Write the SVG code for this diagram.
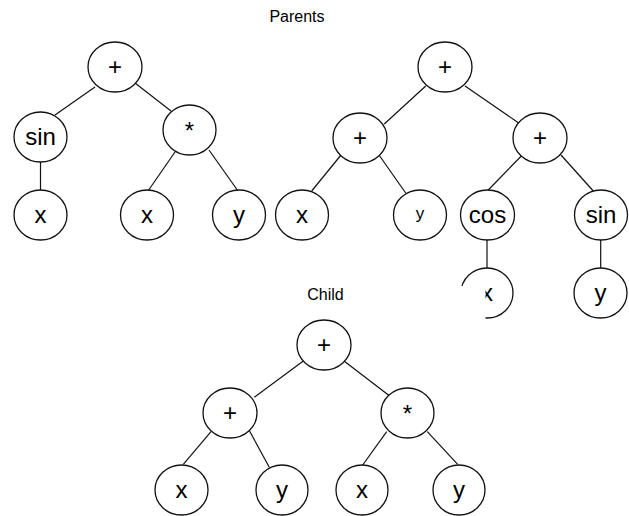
<svg xmlns="http://www.w3.org/2000/svg" width="629" height="516" viewBox="0 0 629 516">
<style>
.n ellipse{fill:#fff;stroke:#111;stroke-width:1.3}
.n text{font-family:"Liberation Sans",Arial,sans-serif;font-size:24px;text-anchor:middle;fill:#000}
.n text.op{font-size:24px}
.n text.sm{font-size:17px}
.t{font-family:"Liberation Sans",Arial,sans-serif;font-size:16px;text-anchor:middle;fill:#000}
#edges line{stroke:#111;stroke-width:1.2}
</style>
<rect width="629" height="516" fill="#fff"/>
<text class="t" x="297" y="22">Parents</text>
<text class="t" x="325.5" y="300">Child</text>
<g id="edges">
<line x1="95" y1="87" x2="55" y2="115"/>
<line x1="135" y1="83" x2="171" y2="111"/>
<line x1="40.5" y1="162" x2="40.5" y2="190"/>
<line x1="175" y1="152" x2="148" y2="191"/>
<line x1="209" y1="150" x2="238" y2="191"/>
<line x1="425.7" y1="86" x2="384.3" y2="124"/>
<line x1="465" y1="86" x2="518.3" y2="122.7"/>
<line x1="341" y1="155" x2="311.7" y2="191"/>
<line x1="379" y1="155" x2="405.7" y2="193"/>
<line x1="522.3" y1="155" x2="487.3" y2="191"/>
<line x1="561" y1="155" x2="593.3" y2="191"/>
<line x1="487" y1="240" x2="487" y2="268"/>
<line x1="600.7" y1="240" x2="600.7" y2="268"/>
<line x1="303.3" y1="361" x2="254.3" y2="397.3"/>
<line x1="344" y1="361" x2="390.7" y2="396.7"/>
<line x1="211" y1="431.7" x2="183.3" y2="464.3"/>
<line x1="249" y1="430" x2="269.3" y2="467.3"/>
<line x1="386.7" y1="431.7" x2="362.7" y2="465"/>
<line x1="427.3" y1="431.7" x2="457.7" y2="464.3"/>
</g>
<g id="p1_plus" class="n"><ellipse cx="115" cy="67" rx="27" ry="25"/><text class="op" x="115" y="75">+</text></g>
<g id="p1_sin" class="n"><ellipse cx="40.5" cy="137" rx="26.5" ry="25"/><text x="40.5" y="145">sin</text></g>
<g id="p1_mul" class="n"><ellipse cx="189.5" cy="130" rx="26.5" ry="25"/><text class="op" x="189.5" y="139">*</text></g>
<g id="p1_x1" class="n"><ellipse cx="40.5" cy="215" rx="26.5" ry="25"/><text x="40.5" y="223">x</text></g>
<g id="p1_x2" class="n"><ellipse cx="147" cy="215" rx="26.5" ry="25"/><text x="147" y="223">x</text></g>
<g id="p1_y" class="n"><ellipse cx="239" cy="215" rx="26.5" ry="25"/><text x="239" y="223">y</text></g>

<g id="p2_plus" class="n"><ellipse cx="445" cy="67" rx="27" ry="25"/><text class="op" x="445" y="75">+</text></g>
<g id="p2_plusL" class="n"><ellipse cx="360" cy="138" rx="27" ry="25"/><text class="op" x="360" y="146">+</text></g>
<g id="p2_plusR" class="n"><ellipse cx="540" cy="138" rx="27" ry="25"/><text class="op" x="540" y="146">+</text></g>
<g id="p2_x" class="n"><ellipse cx="302" cy="215" rx="26.5" ry="25"/><text x="302" y="223">x</text></g>
<g id="p2_y" class="n"><ellipse cx="420" cy="215" rx="26.5" ry="25"/><text class="sm" x="420" y="219">y</text></g>
<g id="p2_cos" class="n"><ellipse cx="487.5" cy="215" rx="27" ry="25"/><text x="487.5" y="223">cos</text></g>
<g id="p2_sin" class="n"><ellipse cx="601" cy="215" rx="26.5" ry="25"/><text x="601" y="223">sin</text></g>
<g id="p2_x2" class="n"><ellipse cx="487" cy="293" rx="26" ry="25"/><text x="487" y="301">x</text><rect x="440" y="286" width="45.5" height="40" fill="#fff"/></g>
<g id="p2_y2" class="n"><ellipse cx="600.5" cy="293" rx="26.5" ry="25"/><text x="600.5" y="301">y</text></g>

<g id="c_plus" class="n"><ellipse cx="324" cy="345" rx="27" ry="25"/><text class="op" x="324" y="353">+</text></g>
<g id="c_plusL" class="n"><ellipse cx="230" cy="413" rx="27" ry="25"/><text class="op" x="230" y="421">+</text></g>
<g id="c_mul" class="n"><ellipse cx="407.5" cy="413" rx="26.5" ry="25"/><text class="op" x="407.5" y="422">*</text></g>
<g id="c_x1" class="n"><ellipse cx="181.5" cy="490" rx="26.5" ry="25"/><text x="181.5" y="498">x</text></g>
<g id="c_y1" class="n"><ellipse cx="282" cy="490" rx="26" ry="25"/><text x="282" y="498">y</text></g>
<g id="c_x2" class="n"><ellipse cx="362" cy="490" rx="26" ry="25"/><text x="362" y="498">x</text></g>
<g id="c_y2" class="n"><ellipse cx="459" cy="490" rx="26" ry="25"/><text x="459" y="498">y</text></g>
</svg>
